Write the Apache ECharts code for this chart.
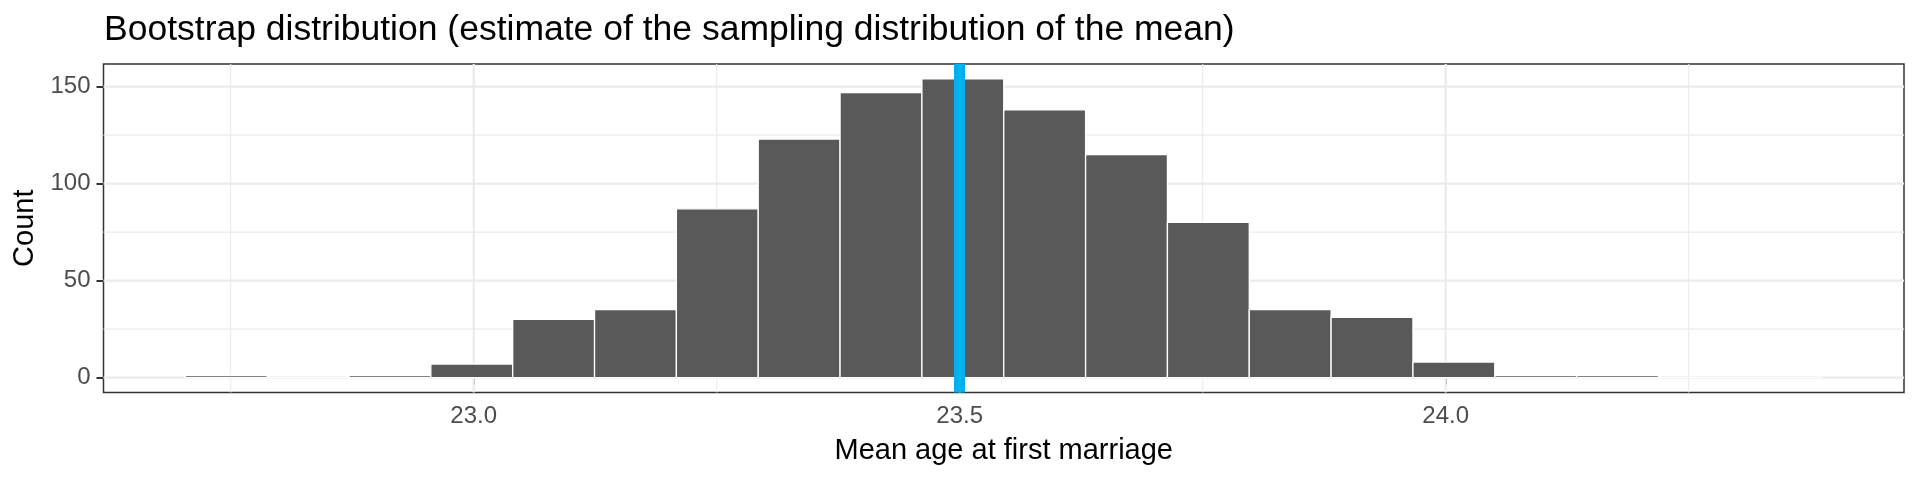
<!DOCTYPE html>
<html>
<head>
<meta charset="utf-8">
<script src="https://cdn.jsdelivr.net/npm/echarts@6/dist/echarts.min.js"></script>
<style>
  html, body { margin: 0; padding: 0; background: #fff; }
  #chart { width: 1920px; height: 480px; }
</style>
</head>
<body>
<div id="chart"></div>
<script>
// histogram bins (left / right edges) and counts
var binLeft  = [22.7033, 22.7875, 22.8717, 22.9559, 23.0401, 23.1243, 23.2085, 23.2927, 23.3769, 23.4611,
                23.5453, 23.6295, 23.7137, 23.7979, 23.8821, 23.9663, 24.0505, 24.1347, 24.2189, 24.3031];
var binRight = [22.7875, 22.8717, 22.9559, 23.0401, 23.1243, 23.2085, 23.2927, 23.3769, 23.4611, 23.5453,
                23.6295, 23.7137, 23.7979, 23.8821, 23.9663, 24.0505, 24.1347, 24.2189, 24.3031, 24.3873];
var counts   = [1, 0, 1, 7, 30, 35, 87, 123, 147, 154, 138, 115, 80, 35, 31, 8, 1, 1, 0, 0];

var sampleMean = 23.502;

var xTicks = [23.0, 23.5, 24.0];
var xMinor = [22.75, 23.25, 23.75, 24.25];
var yTicks = [0, 50, 100, 150];
var yMinor = [25, 75, 125];

var bars = [];
for (var i = 0; i < counts.length; i++) {
  bars.push([binLeft[i], binRight[i], counts[i]]);
}

// ggplot-like scale expansion (5% each side)
var xSpan = binRight[binRight.length - 1] - binLeft[0];
var xMin = binLeft[0] - 0.05 * xSpan;
var xMax = binRight[binRight.length - 1] + 0.05 * xSpan;
var yTop = Math.max.apply(null, counts);
var yMin = -0.05 * yTop;
var yMax = 1.05 * yTop;

// grid line items: [value, major?]
var hLines = yMinor.map(function (v) { return [v, 0]; })
  .concat(yTicks.map(function (v) { return [v, 1]; }));
var vLines = xMinor.map(function (v) { return [v, 0]; })
  .concat(xTicks.map(function (v) { return [v, 1]; }));

function gridRender(horizontal) {
  return function (params, api) {
    var cs = params.coordSys;
    var v = api.value(0);
    var w = api.value(1) ? 2.2 : 1.1;
    var shape;
    if (horizontal) {
      var y = api.coord([xMin, v])[1];
      shape = { x1: cs.x, y1: y, x2: cs.x + cs.width, y2: y };
    } else {
      var x = api.coord([v, yMin])[0];
      shape = { x1: x, y1: cs.y, x2: x, y2: cs.y + cs.height };
    }
    return { type: 'line', shape: shape, style: { stroke: '#EBEBEB', lineWidth: w } };
  };
}

var font = 'Liberation Sans';

var option = {
  animation: false,
  textStyle: { fontFamily: font },
  title: {
    text: 'Bootstrap distribution (estimate of the sampling distribution of the mean)',
    left: 104,
    top: 12.5,
    padding: 0,
    textStyle: { fontFamily: font, fontSize: 35.5, fontWeight: 'normal', color: '#000' }
  },
  grid: {
    left: 103.5,
    right: 16,
    top: 64,
    bottom: 87.5,
    show: true,
    borderColor: '#333333',
    borderWidth: 1.5,
    backgroundColor: '#fff'
  },
  xAxis: {
    type: 'value',
    min: xMin,
    max: xMax,
    name: 'Mean age at first marriage',
    nameLocation: 'middle',
    nameGap: 44,
    nameTextStyle: { fontFamily: font, fontSize: 29, color: '#000' },
    axisLine: { show: false },
    splitLine: { show: false },
    axisTick: { show: true, length: 7, customValues: xTicks, lineStyle: { color: '#333333', width: 2 } },
    axisLabel: {
      customValues: xTicks,
      margin: 12,
      fontSize: 24,
      color: '#4D4D4D',
      formatter: function (v) { return v.toFixed(1); }
    }
  },
  yAxis: {
    type: 'value',
    min: yMin,
    max: yMax,
    name: 'Count',
    nameLocation: 'middle',
    nameGap: 62,
    nameTextStyle: { fontFamily: font, fontSize: 29, color: '#000' },
    axisLine: { show: false },
    splitLine: { show: false },
    axisTick: { show: true, length: 7, customValues: yTicks, lineStyle: { color: '#333333', width: 2 } },
    axisLabel: {
      customValues: yTicks,
      margin: 13,
      fontSize: 24,
      color: '#4D4D4D'
    }
  },
  series: [
    {
      type: 'custom',
      z: 1,
      silent: true,
      data: hLines,
      renderItem: gridRender(true)
    },
    {
      type: 'custom',
      z: 1,
      silent: true,
      data: vLines,
      renderItem: gridRender(false)
    },
    {
      type: 'custom',
      z: 2,
      silent: true,
      encode: { x: [0, 1], y: 2 },
      data: bars,
      renderItem: function (params, api) {
        var p0 = api.coord([api.value(0), api.value(2)]);
        var p1 = api.coord([api.value(1), 0]);
        return {
          type: 'rect',
          shape: { x: p0[0], y: p0[1], width: p1[0] - p0[0], height: p1[1] - p0[1] },
          style: { fill: '#595959', stroke: '#FFFFFF', lineWidth: 1.3 }
        };
      }
    },
    {
      type: 'line',
      data: [],
      z: 3,
      silent: true,
      markLine: {
        silent: true,
        symbol: ['none', 'none'],
        label: { show: false },
        animation: false,
        lineStyle: { color: '#00B0F0', type: 'solid', width: 11 },
        data: [{ xAxis: sampleMean }]
      }
    }
  ]
};

var chart = echarts.init(document.getElementById('chart'), null, { renderer: 'canvas' });
chart.setOption(option);
</script>
</body>
</html>
